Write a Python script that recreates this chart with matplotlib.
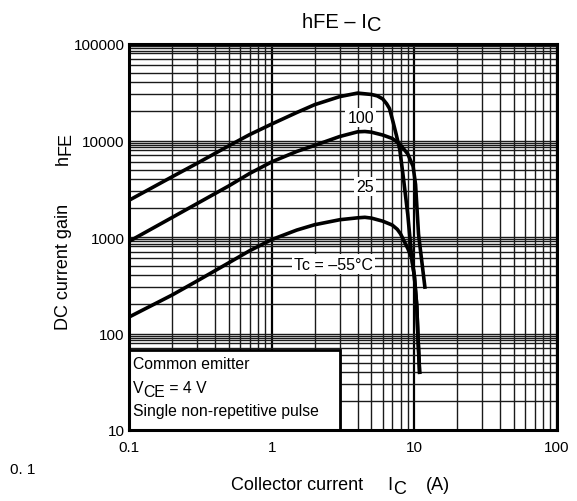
import matplotlib
matplotlib.use("Agg")
import matplotlib.pyplot as plt
from matplotlib.patches import Rectangle
from matplotlib.ticker import FixedLocator, NullFormatter

plt.rcParams['font.family'] = ['Liberation Sans', 'DejaVu Sans']

# collector current (A) and DC current gain for each case temperature
ic_100 = [0.1, 0.2, 0.3, 0.5, 0.7, 1, 1.5, 2, 3, 4, 5, 5.5, 6.0, 6.4, 6.7, 7.1, 7.5, 7.9, 8.4,
          9.0, 9.6, 10.0, 10.4, 10.6, 10.9]
hfe_100 = [2400, 4200, 5800, 8800, 11500, 14800, 19500, 23500, 28500, 31000, 30000, 29000, 27000,
           24000, 21400, 15500, 11200, 8100, 4000, 1700, 600, 395, 193, 94, 38]

ic_25 = [0.1, 0.2, 0.3, 0.5, 0.7, 1, 1.5, 2, 3, 4, 4.5, 5, 6, 7, 7.9, 9, 9.8, 10.2, 10.7, 11.9]
hfe_25 = [900, 1590, 2220, 3380, 4550, 6000, 7700, 8900, 11000, 12300, 12400, 12200, 11400,
          10500, 9200, 7240, 5400, 3500, 1070, 290]

ic_m55 = [0.1, 0.2, 0.3, 0.5, 0.7, 1, 1.5, 2, 3, 4, 4.5, 5, 6, 7, 7.6, 8, 8.5, 9, 9.6, 10.0,
          10.4, 10.6, 10.9]
hfe_m55 = [148, 250, 350, 540, 720, 940, 1180, 1340, 1510, 1580, 1600, 1570, 1460, 1330, 1200,
           1080, 900, 760, 600, 395, 193, 94, 38]

x_ticks = [0.1, 1, 10, 100]
x_ticklabels = ["0.1", "1", "10", "100"]
y_ticks = [10, 100, 1000, 10000, 100000]
y_ticklabels = ["10", "100", "1000", "10000", "100000"]

fig = plt.figure(figsize=(5.77, 5.02), dpi=100)
ax = fig.add_axes([129 / 577, 71 / 502, 428 / 577, 386 / 502])
ax.set_xscale("log")
ax.set_yscale("log")
ax.set_xlim(0.1, 100)
ax.set_ylim(10, 100000)

# grid
xminor = [m * 10.0 ** e for e in (-1, 0, 1) for m in range(2, 10)]
yminor = [m * 10.0 ** e for e in (1, 2, 3, 4)
          for m in (2, 3, 4, 5, 6, 7, 8, 8.5, 9, 9.5)]
ax.xaxis.set_minor_locator(FixedLocator(xminor))
ax.yaxis.set_minor_locator(FixedLocator(yminor))
ax.xaxis.set_minor_formatter(NullFormatter())
ax.yaxis.set_minor_formatter(NullFormatter())
ax.set_xticks(x_ticks, x_ticklabels)
ax.set_yticks(y_ticks, y_ticklabels)
ax.grid(which="minor", color="#1a1a1a", lw=1.0)
ax.grid(which="major", axis="y", color="#1a1a1a", lw=1.0)
ax.grid(which="major", axis="x", color="#000000", lw=1.6)
ax.tick_params(which="both", length=0, labelsize=11)
ax.tick_params(axis="x", pad=7)
ax.tick_params(axis="y", pad=3)
for sp in ax.spines.values():
    sp.set_linewidth(2.2)
    sp.set_zorder(10)

ax.plot(ic_100, hfe_100, color="black", lw=2.6, solid_capstyle="butt", zorder=5)
ax.plot(ic_25, hfe_25, color="black", lw=2.6, solid_capstyle="butt", zorder=5)
ax.plot(ic_m55, hfe_m55, color="black", lw=2.6, solid_capstyle="butt", zorder=5)

lbl = dict(fontsize=11.5, ha="center", va="center", zorder=6,
           bbox=dict(facecolor="white", edgecolor="none", pad=1.5))
ax.text(4.2, 17400, "100", **lbl)
ax.text(4.5, 3330, "25", **lbl)
ax.text(2.7, 525, "Tc = \u201355\u00b0C", **lbl)


def after(prev, s, dx, dy, size, rot=0, corner=(1, 0)):
    # put a text piece right after another one (used for the lowered subscripts)
    return ax.annotate(s, xy=corner, xycoords=prev, xytext=(dx, dy),
                       textcoords="offset points", ha="left", va="bottom",
                       fontsize=size, rotation=rot, zorder=8, annotation_clip=False)


# conditions box
ax.add_patch(Rectangle((0, 0), 211 / 428, 80 / 386, transform=ax.transAxes,
                       facecolor="white", edgecolor="black", lw=2, zorder=7))
box_kw = dict(transform=ax.transAxes, fontsize=11.3, va="center", zorder=8)
ax.text(4 / 428, 66 / 386, "Common emitter", **box_kw)
v = ax.text(4 / 428, 42 / 386, "V", **box_kw)
ce = after(v, "CE", 0, -2.2, 11.3)
after(ce, " = 4 V", 0, 2.2, 11.3)
ax.text(4 / 428, 19 / 386, "Single non-repetitive pulse", **box_kw)

# title
t = fig.text(302 / 577, 1 - 22 / 502, "hFE \u2013 I", ha="left", va="center", fontsize=14.5)
after(t, "C", 0.3, -2.2, 14.5)

# y label
yl = fig.text(63 / 577, 1 - 330 / 502, "DC current gain", rotation=90,
              ha="center", va="bottom", fontsize=13)
h = after(yl, "h", 0, 28, 13, rot=90, corner=(0, 1))
after(h, "FE", 2.2, 0, 13, rot=90, corner=(0, 1))

# x label
xl = fig.text(231 / 577, 1 - 486 / 502, "Collector current     I", ha="left", va="center",
              fontsize=13)
c = after(xl, "C", 0.3, -2.2, 13)
after(c, "(A)", 14, 2.2, 13)

fig.text(10 / 577, 1 - 470 / 502, "0. 1", ha="left", va="center", fontsize=11)

fig.savefig("out.png", dpi=100)
